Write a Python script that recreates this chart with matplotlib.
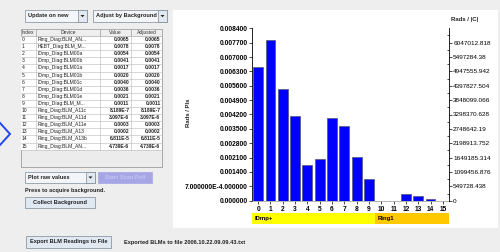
import matplotlib
matplotlib.use("Agg")
import matplotlib.pyplot as plt
from matplotlib.patches import Rectangle, Polygon

plt.rcParams['font.family'] = ['Liberation Sans', 'DejaVu Sans']

# BLM table / chart data
blm_index = list(range(16))
device_names = ['Ring_Diag:BLM_AN...', 'HEBT_Diag:BLM_M...', 'IDmp_Diag:BLM00a',
                'IDmp_Diag:BLM00b', 'IDmp_Diag:BLM01a', 'IDmp_Diag:BLM01b',
                'IDmp_Diag:BLM01c', 'IDmp_Diag:BLM01d', 'IDmp_Diag:BLM01e',
                'IDmp_Diag:BLM_M...', 'Ring_Diag:BLM_A11c', 'Ring_Diag:BLM_A11d',
                'Ring_Diag:BLM_A11e', 'Ring_Diag:BLM_A13', 'Ring_Diag:BLM_A13b',
                'Ring_Diag:BLM_AN...']
raw_values = [0.00651, 0.00784, 0.00543, 0.00411, 0.00172, 0.00202, 0.00401, 0.00364,
              0.00211, 0.00107, 8.189e-7, 3.097e-6, 0.00033, 0.00023, 6.811e-5, 4.739e-6]
# no background collected yet, so adjusted == raw
adjusted_values = [0.00651, 0.00784, 0.00543, 0.00411, 0.00172, 0.00202, 0.00401, 0.00364,
                   0.00211, 0.00107, 8.189e-7, 3.097e-6, 0.00033, 0.00023, 6.811e-5, 4.739e-6]
header_labels = ['Index', 'Device', 'Value', 'Adjusted']

section_names = ['IDmp+', 'Ring1']
section_sizes = [10, 6]
section_colors = ['#ffff00', '#ffc800']

left_tick_labels = ['0.000000', '7.000000E-4.000000', '0.001400', '0.002100', '0.002800',
                    '0.003500', '0.004200', '0.004900', '0.005600', '0.006300',
                    '0.007000', '0.007700', '0.008400']
right_tick_labels = ['0', '549728.438', '1099456.876', '1649185.314', '2198913.752',
                     '2748642.19', '3298370.628', '3848099.066', '4397827.504',
                     '4947555.942', '5497284.38', '6047012.818']
left_step = 0.0007
right_step = 549728.438


def fmt_value(v):
   if v >= 1e-4:
      return "{:.4f}".format(v)
   m, e = "{:.3E}".format(v).split("E")
   return "{}E{}".format(m, int(e))


def draw_combo(x0, y0, w, h, label):
   ui.add_patch(Rectangle((x0, y0), w, h, facecolor='#f3f5f8', edgecolor='#7a8a99', lw=0.5))
   ui.add_patch(Rectangle((x0 + w - 9, y0), 9, h, facecolor='#e2e8ef', edgecolor='#7a8a99', lw=0.5))
   cx, cy = x0 + w - 4.5, y0 + h / 2
   ui.add_patch(Polygon([[cx - 2, cy - 1], [cx + 2, cy - 1], [cx, cy + 1.2]], color='#222222', lw=0))
   ui.text(x0 + 3, cy, label, fontsize=4.1, fontweight='bold', va='center', ha='left', color='#222222')


def draw_button(x0, y0, w, h, label, face='#e0e8f2', edge='#7a8a99', tcolor='#222222'):
   ui.add_patch(Rectangle((x0, y0), w, h, facecolor=face, edgecolor=edge, lw=0.5))
   ui.text(x0 + w / 2, y0 + h / 2, label, fontsize=4.1, fontweight='bold',
           va='center', ha='center', color=tcolor)


fig = plt.figure(figsize=(5, 2.52), dpi=100, facecolor='#eeeeee')

# pixel-space overlay for the swing widgets
ui = fig.add_axes([0, 0, 1, 1])
ui.set_xlim(0, 500)
ui.set_ylim(252, 0)
ui.axis('off')
ui.set_zorder(0)

ui.plot([0, 10, 0], [123, 134, 145], color='#2446f0', lw=1.4, solid_joinstyle='miter')

draw_combo(25, 10, 62, 12, 'Update on new')
draw_combo(93, 10, 74, 12, 'Adjust by Background')

# table
col_x = [20.5, 36, 100, 131, 162]
head_top, head_h, row_h = 29, 7, 7.1
pane_bottom = 167
ui.add_patch(Rectangle((col_x[0], head_top), col_x[-1] - col_x[0], pane_bottom - head_top,
                       facecolor='#ececec', edgecolor='#8c8c8c', lw=0.5))
ui.add_patch(Rectangle((col_x[0], head_top + head_h), col_x[-1] - col_x[0], row_h * len(blm_index),
                       facecolor='white', edgecolor='none'))
for j, name in enumerate(header_labels):
   ui.add_patch(Rectangle((col_x[j], head_top), col_x[j + 1] - col_x[j], head_h,
                          facecolor='#eeeeee', edgecolor='#9a9a9a', lw=0.4))
   ui.text((col_x[j] + col_x[j + 1]) / 2, head_top + head_h / 2, name, fontsize=3.6,
           ha='center', va='center', color='#333333')
table_bottom = head_top + head_h + row_h * len(blm_index)
for i in blm_index:
   y = head_top + head_h + row_h * (i + 1)
   ui.plot([col_x[0], col_x[-1]], [y, y], color='#b8b8b8', lw=0.4)
   yc = y - row_h / 2
   ui.text(col_x[0] + 1.5, yc, str(i), fontsize=3.6, ha='left', va='center', color='#222222')
   ui.text(col_x[1] + 1.5, yc, device_names[i], fontsize=3.6, ha='left', va='center', color='#222222')
   ui.text(col_x[3] - 1.5, yc, fmt_value(raw_values[i]), fontsize=3.6, fontweight='bold',
           ha='right', va='center', color='#222222')
   ui.text(col_x[4] - 1.5, yc, fmt_value(adjusted_values[i]), fontsize=3.6, fontweight='bold',
           ha='right', va='center', color='#222222')
for x in col_x[1:-1]:
   ui.plot([x, x], [head_top + head_h, table_bottom], color='#b8b8b8', lw=0.4)

draw_combo(25, 172, 70, 11, 'Plot raw values')
draw_button(98, 172, 54, 11, 'Start Scan Poll', face='#a6a6e6', edge='#a6a6e6', tcolor='#c4c4f2')
ui.text(25, 190.7, 'Press to acquire background.', fontsize=4.1, fontweight='bold',
        va='center', ha='left', color='#222222')
draw_button(25, 197, 70, 11, 'Collect Background')
draw_button(26, 236, 85, 12, 'Export BLM Readings to File')
ui.text(124, 242.3, 'Exported BLMs to file 2006.10.22.09.09.43.txt', fontsize=4.1,
        fontweight='bold', va='center', ha='left', color='#222222')

# chart panel
ui.add_patch(Rectangle((172.5, 10), 325.5, 218, facecolor='white', edgecolor='none'))
ui.text(188, 113, 'Rads / Pls', rotation=90, fontsize=4.3, fontweight='bold',
        ha='center', va='center', color='#222222')
ui.text(451, 20, 'Rads / |C|', fontsize=4.3, fontweight='bold', ha='left', va='center',
        color='#222222')

ax = fig.add_axes([252 / 500, 1 - 200.7 / 252, 197 / 500, 172.4 / 252])
ax.set_zorder(2)
ax.patch.set_alpha(0)
ax.bar(blm_index, raw_values, width=0.8, color='#0000ff', edgecolor='#555577', linewidth=0.5)
ax.set_xlim(-0.5, 15.5)
ax.set_ylim(0, left_step * (len(left_tick_labels) - 1))
ax.set_yticks([left_step * k for k in range(len(left_tick_labels))])
ax.set_yticklabels(left_tick_labels)
ax.set_xticks(blm_index)
ax.set_xticklabels([str(i) for i in blm_index])
for s in ['top', 'right']:
   ax.spines[s].set_visible(False)
ax.spines['left'].set_linewidth(0.6)
ax.spines['bottom'].set_linewidth(0.5)
ax.spines['bottom'].set_color('#999999')
ax.tick_params(axis='y', length=2, width=0.5, pad=1, labelsize=4.8)
ax.tick_params(axis='x', length=2, width=0.5, pad=1.5, labelsize=4.8)
for lab in ax.get_xticklabels() + ax.get_yticklabels():
   lab.set_fontweight('bold')

ax2 = ax.twinx()
ax2.set_ylim(0, right_step * (len(right_tick_labels)))
ax2.set_yticks([right_step * k for k in range(len(right_tick_labels))])
ax2.set_yticklabels(right_tick_labels)
ax2.set_yticks([right_step * (k + 0.5) for k in range(len(right_tick_labels))], minor=True)
for s in ['top', 'left', 'bottom']:
   ax2.spines[s].set_visible(False)
ax2.spines['right'].set_linewidth(0.6)
ax2.tick_params(axis='y', which='major', length=2, width=0.5, pad=1, labelsize=4.6)
ax2.tick_params(axis='y', which='minor', length=1.5, width=0.5, direction='in')

# section band under the bars
axb = fig.add_axes([252 / 500, 1 - 224 / 252, 197 / 500, 10.7 / 252])
axb.set_xlim(-0.5, 15.5)
axb.set_ylim(0, 1)
axb.axis('off')
start = -0.5
for name, size, c in zip(section_names, section_sizes, section_colors):
   axb.barh(0.5, size, left=start, height=1, color=c, lw=0)
   axb.text(start + 0.2, 0.5, name, fontsize=4.3, fontweight='bold', va='center', ha='left')
   start += size

fig.savefig('out.png', dpi=100, facecolor=fig.get_facecolor())
